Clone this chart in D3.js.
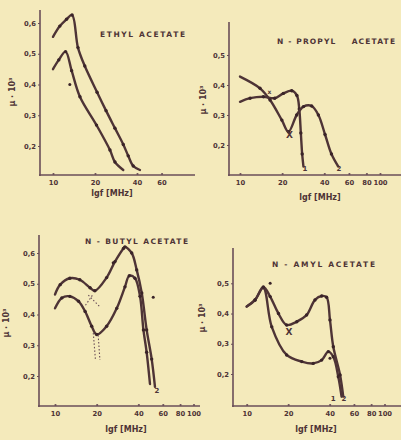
<!DOCTYPE html>
<html>
<head>
<meta charset="utf-8">
<script src="https://cdn.jsdelivr.net/npm/d3@7"></script>
<style>
  body { margin: 0; background: #f4eabb; }
  svg { display: block; }
  .tick text { font-family: 'DejaVu Sans', sans-serif; font-size: 6.8px; font-weight: bold; fill: #4e3436; }
  .lbl { font-family: 'DejaVu Sans', sans-serif; font-weight: bold; fill: #4e3436; }
</style>
</head>
<body>
<div class="visHolder"></div>
<script>
// tick values
const xTicksEthyl = [10, 20, 40, 60]
const xTicksAll = [10, 20, 40, 60, 80, 100]
const yTicksEthyl = [0.2, 0.3, 0.4, 0.5, 0.6]
const yTicksPropyl = [0.2, 0.3, 0.4, 0.5]
const yTicksButyl = [0.2, 0.3, 0.4, 0.5, 0.6]
const yTicksAmyl = [0.2, 0.3, 0.4, 0.5]

// ethyl acetate
const ethylF1 = [10, 11.2, 12.5, 13.7, 15.1, 16.9, 20.7, 24, 27.8, 31.9, 34.6, 37.6, 42]
const ethylMu1 = [0.555, 0.59, 0.612, 0.626, 0.52, 0.46, 0.375, 0.315, 0.258, 0.205, 0.168, 0.135, 0.122]
const ethylF2 = [10, 11, 12.3, 13.6, 15.6, 20.5, 25.6, 27.8, 31.9]
const ethylMu2 = [0.45, 0.48, 0.507, 0.445, 0.36, 0.268, 0.187, 0.148, 0.122]
const ethylDotsF = [13.2]
const ethylDotsMu = [0.40]

// n-propyl acetate
const propylF1 = [10, 11.8, 14.7, 17.7, 20.4, 23.4, 25.5, 26.5, 27.2, 27.8, 28.4]
const propylMu1 = [0.344, 0.356, 0.361, 0.356, 0.372, 0.381, 0.365, 0.32, 0.24, 0.17, 0.128]
const propylF2 = [10, 13.9, 16.4, 19.9, 22.2, 25.4, 28.4, 32.5, 36.3, 40.5, 45, 50.4]
const propylMu2 = [0.428, 0.389, 0.35, 0.283, 0.244, 0.30, 0.328, 0.33, 0.30, 0.235, 0.17, 0.128]

// n-butyl acetate
const butylF1 = [10, 10.9, 12.8, 15.1, 17.9, 19.4, 23.6, 27.1, 31.2, 32, 35.8, 38.9, 42.3, 45.9, 49.9, 52.7]
const butylMu1 = [0.465, 0.497, 0.518, 0.513, 0.487, 0.477, 0.52, 0.572, 0.615, 0.62, 0.6, 0.545, 0.47, 0.35, 0.255, 0.165]
const butylF2 = [10, 11.2, 12.8, 14.8, 16.5, 18.4, 20, 23.6, 27.9, 32, 34.4, 37.8, 41.1, 43.5, 45.9, 48.5]
const butylMu2 = [0.42, 0.454, 0.459, 0.443, 0.41, 0.362, 0.335, 0.362, 0.42, 0.49, 0.526, 0.518, 0.459, 0.35, 0.277, 0.174]
const butylDotsF = [26.3, 51.2]
const butylDotsMu = [0.568, 0.456]
const butylDashF = [[17.4, 21.1], [18.6, 16.6], [18.9, 19.6], [20.5, 21.1]]
const butylDashMu = [[0.463, 0.425], [0.462, 0.43], [0.34, 0.252], [0.333, 0.252]]

// n-amyl acetate
const amylF1 = [10, 11.5, 13.2, 15.2, 19.5, 25.1, 30.4, 35, 39.1, 42.5, 46.2, 48.8]
const amylMu1 = [0.423, 0.445, 0.485, 0.356, 0.263, 0.241, 0.235, 0.246, 0.274, 0.257, 0.191, 0.125]
const amylF2 = [10, 11.5, 13.2, 14.8, 17, 19.5, 23.1, 27.2, 31.3, 35, 38, 40.2, 42.5, 47.6, 50.2]
const amylMu2 = [0.423, 0.445, 0.488, 0.456, 0.40, 0.362, 0.373, 0.395, 0.445, 0.458, 0.454, 0.379, 0.29, 0.197, 0.125]
const amylDotsF = [14.8, 40.2]
const amylDotsMu = [0.50, 0.252]

const ink = '#4e3436'
const axisInk = '#6a4e58'

const zip = (a, b) => a.map((d, i) => [d, b[i]])

const panels = [
    { title: 'ETHYL ACETATE', titleX: 100, titleY: 37, titleW: 85,
      left: 40, right: 195, top: 10, bottom: 175, x10: 53, x100: 192.5,
      yA: 0.2, yApx: 146, yB: 0.6, yBpx: 23, xTicks: xTicksEthyl, yTicks: yTicksEthyl,
      yLabX: 15, yLabY: 92, xLabX: 112, xLabY: 196,
      curves: [zip(ethylF1, ethylMu1), zip(ethylF2, ethylMu2)], dots: zip(ethylDotsF, ethylDotsMu),
      dashes: [], marks: [], nums: [] },
    { title: 'N - PROPYL    ACETATE', titleX: 277, titleY: 44, titleW: 118,
      left: 229, right: 401, top: 22, bottom: 175, x10: 240, x100: 380,
      yA: 0.2, yApx: 145, yB: 0.5, yBpx: 55, xTicks: xTicksAll, yTicks: yTicksPropyl,
      yLabX: 206, yLabY: 100, xLabX: 320, xLabY: 200,
      curves: [zip(propylF1, propylMu1), zip(propylF2, propylMu2)], dots: [],
      dashes: [], marks: [[22.6, 0.225, 'X'], [16.2, 0.37, 'x']], nums: [[29.1, 0.112, '1'], [51, 0.112, '2']] },
    { title: 'N - BUTYL ACETATE', titleX: 85, titleY: 244, titleW: 103,
      left: 39, right: 200, top: 235, bottom: 406, x10: 55, x100: 193.5,
      yA: 0.2, yApx: 376, yB: 0.6, yBpx: 253, xTicks: xTicksAll, yTicks: yTicksButyl,
      yLabX: 9, yLabY: 323, xLabX: 126, xLabY: 432,
      curves: [zip(butylF1, butylMu1), zip(butylF2, butylMu2)], dots: zip(butylDotsF, butylDotsMu),
      dashes: butylDashF.map((f, i) => zip(f, butylDashMu[i])), marks: [], nums: [[54.5, 0.145, '2']] },
    { title: 'N - AMYL ACETATE', titleX: 272, titleY: 267, titleW: 103,
      left: 233, right: 401, top: 248, bottom: 406, x10: 246.7, x100: 384.5,
      yA: 0.2, yApx: 374, yB: 0.5, yBpx: 283.3, xTicks: xTicksAll, yTicks: yTicksAmyl,
      yLabX: 205, yLabY: 318, xLabX: 316, xLabY: 432,
      curves: [zip(amylF1, amylMu1), zip(amylF2, amylMu2)], dots: zip(amylDotsF, amylDotsMu),
      dashes: [], marks: [[20.3, 0.33, 'X']], nums: [[42.5, 0.112, '1'], [50.8, 0.112, '2']] }
]

const svg = d3.select('.visHolder')
    .append('svg')
    .attr('width', 401)
    .attr('height', 440)

svg.append('rect').attr('width', 401).attr('height', 440).attr('fill', '#f4eabb')

panels.forEach(p => {
    const g = svg.append('g')
    const x = d3.scaleLog().domain([10, 100]).range([p.x10, p.x100])
    const y = d3.scaleLinear().domain([p.yA, p.yB]).range([p.yApx, p.yBpx])

    // axes lines
    g.append('line').attr('x1', p.left).attr('x2', p.left).attr('y1', p.top).attr('y2', p.bottom + 1)
        .attr('stroke', axisInk).attr('stroke-width', 1.6)
    g.append('line').attr('x1', p.left - 1).attr('x2', p.right).attr('y1', p.bottom).attr('y2', p.bottom)
        .attr('stroke', axisInk).attr('stroke-width', 1.6)

    const xAxis = g.append('g')
        .attr('transform', `translate(0, ${p.bottom})`)
        .call(d3.axisBottom(x).tickValues(p.xTicks).tickSize(0).tickPadding(5).tickFormat(d3.format('d')))
    xAxis.select('.domain').remove()
    xAxis.selectAll('.tick').append('circle').attr('r', 1.1).attr('cy', -1).attr('fill', axisInk)

    const yAxis = g.append('g')
        .attr('transform', `translate(${p.left}, 0)`)
        .call(d3.axisLeft(y).tickValues(p.yTicks).tickSize(2).tickPadding(2)
            .tickFormat(d => d.toFixed(1).replace('.', ',')))
    yAxis.select('.domain').remove()
    yAxis.selectAll('.tick line').attr('stroke', axisInk)

    // titles
    g.append('text').attr('class', 'lbl')
        .attr('x', p.titleX).attr('y', p.titleY)
        .attr('font-size', 7.5)
        .attr('textLength', p.titleW).attr('lengthAdjust', 'spacing')
        .attr('xml:space', 'preserve')
        .text(p.title)

    g.append('text').attr('class', 'lbl')
        .attr('x', p.xLabX).attr('y', p.xLabY)
        .attr('text-anchor', 'middle').attr('font-size', 8)
        .text('lgf [MHz]')

    g.append('text').attr('class', 'lbl')
        .attr('transform', `translate(${p.yLabX}, ${p.yLabY}) rotate(-90)`)
        .attr('text-anchor', 'middle').attr('font-size', 8)
        .text('μ · 10³')

    const line = d3.line()
        .x(d => x(d[0]))
        .y(d => y(d[1]))
        .curve(d3.curveCatmullRom.alpha(0.5))

    p.curves.forEach(c => {
        g.append('path').datum(c)
            .attr('d', line)
            .attr('fill', 'none')
            .attr('stroke', ink)
            .attr('stroke-width', 2.4)
            .attr('stroke-linejoin', 'round')
            .attr('stroke-linecap', 'round')
        g.selectAll(null).data(c.slice(1, -1)).enter()
            .append('circle')
            .attr('cx', d => x(d[0])).attr('cy', d => y(d[1]))
            .attr('r', 1.7).attr('fill', '#3a2428')
    })

    g.selectAll(null).data(p.dots).enter()
        .append('circle')
        .attr('cx', d => x(d[0])).attr('cy', d => y(d[1]))
        .attr('r', 1.5).attr('fill', '#3a2428')

    p.dashes.forEach(c => {
        g.append('path').datum(c)
            .attr('d', d3.line().x(d => x(d[0])).y(d => y(d[1])))
            .attr('fill', 'none')
            .attr('stroke', axisInk)
            .attr('stroke-width', 1.1)
            .attr('stroke-dasharray', '1.5,2')
    })

    g.selectAll(null).data(p.marks).enter()
        .append('text').attr('class', 'lbl')
        .attr('x', d => x(d[0])).attr('y', d => y(d[1]))
        .attr('text-anchor', 'middle')
        .attr('font-size', d => d[2] === 'X' ? 9 : 6)
        .attr('font-weight', 'normal')
        .text(d => d[2])

    g.selectAll(null).data(p.nums).enter()
        .append('text').attr('class', 'lbl')
        .attr('x', d => x(d[0])).attr('y', d => y(d[1]))
        .attr('text-anchor', 'middle')
        .attr('font-size', 7)
        .text(d => d[2])
})
</script>
</body>
</html>
